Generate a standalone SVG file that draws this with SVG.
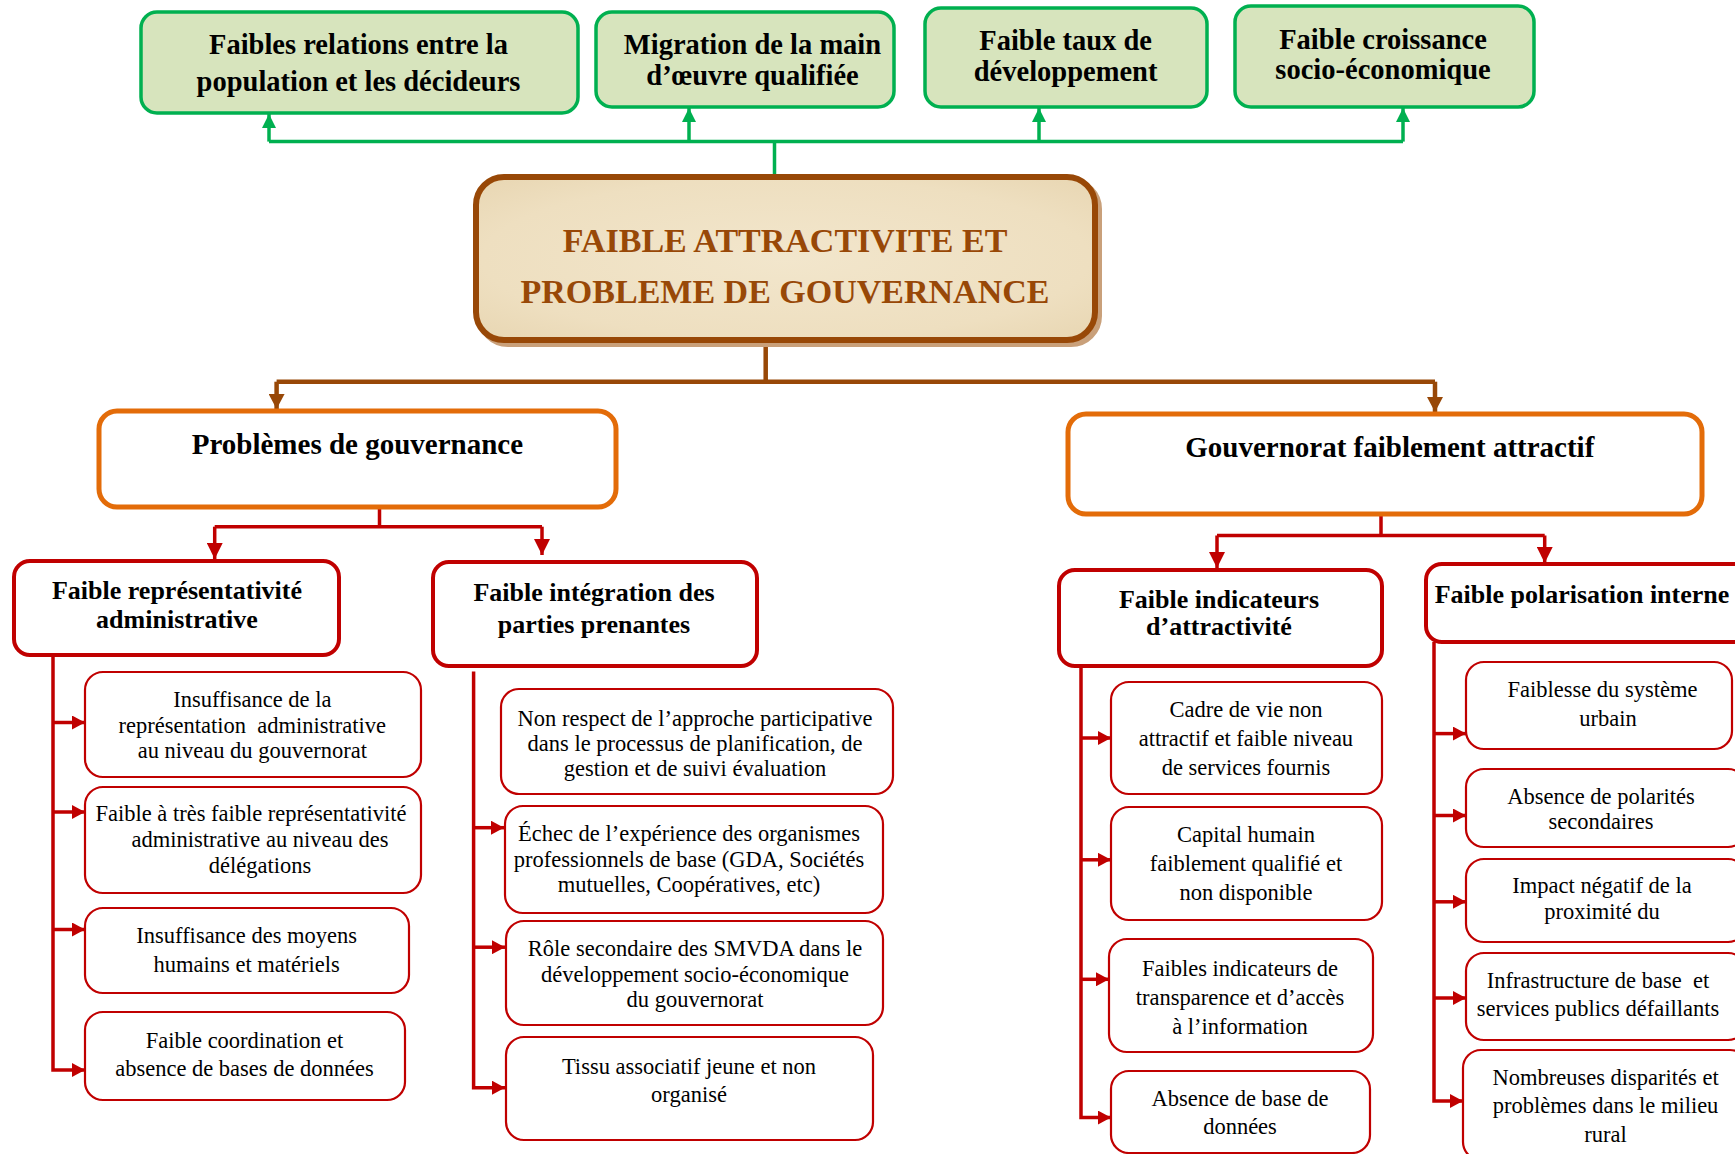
<svg xmlns="http://www.w3.org/2000/svg" width="1735" height="1154" viewBox="0 0 1735 1154">
<style>
text{font-family:"Liberation Serif","DejaVu Serif",serif;text-anchor:middle;fill:#000;white-space:pre}
.g rect{fill:#D7E4BD;stroke:#00B050;stroke-width:3.5}
.g text{font-size:28.5px;font-weight:bold}
.o rect{fill:#fff;stroke:#E36C09;stroke-width:5}
.o text{font-size:29px;font-weight:bold}
.r2 rect{fill:#fff;stroke:#C00000;stroke-width:4}
.r2 text{font-size:26px;font-weight:bold}
.lf rect{fill:#fff;stroke:#C00000;stroke-width:2.2}
.lf text{font-size:22.5px}
.cg{fill:none;stroke:#00B050;stroke-width:3.5}
.cb{fill:none;stroke:#984807;stroke-width:4.5}
.cr{fill:none;stroke:#C00000;stroke-width:3.5}
</style>
<defs>
<marker id="ag" markerUnits="userSpaceOnUse" markerWidth="14" markerHeight="14" refX="14" refY="7" orient="auto"><path d="M0,0 L14,7 L0,14 z" fill="#00B050"/></marker>
<marker id="ab" markerUnits="userSpaceOnUse" markerWidth="15" markerHeight="16" refX="15" refY="8" orient="auto"><path d="M0,0 L15,8 L0,16 z" fill="#984807"/></marker>
<marker id="ar" markerUnits="userSpaceOnUse" markerWidth="16" markerHeight="16" refX="16" refY="8" orient="auto"><path d="M0,0 L16,8 L0,16 z" fill="#C00000"/></marker>
<marker id="as" markerUnits="userSpaceOnUse" markerWidth="13" markerHeight="14" refX="13" refY="7" orient="auto"><path d="M0,0 L13,7 L0,14 z" fill="#C00000"/></marker>
<radialGradient id="parch" cx="50%" cy="50%" r="70%"><stop offset="0" stop-color="#F2E6CC"/><stop offset="0.7" stop-color="#EEDFC0"/><stop offset="1" stop-color="#E8D6B2"/></radialGradient>
</defs>

<g id="connectors">
<path class="cg" d="M774.5,177 V141.6 M269,141.6 H1403"/>
<path class="cg" d="M269,141.6 V114" marker-end="url(#ag)"/>
<path class="cg" d="M689,141.6 V108" marker-end="url(#ag)"/>
<path class="cg" d="M1039,141.6 V108" marker-end="url(#ag)"/>
<path class="cg" d="M1403,141.6 V108" marker-end="url(#ag)"/>
<path class="cb" d="M765.7,343 V381.7 M276.6,381.7 H1435"/>
<path class="cb" d="M276.6,381.7 V409" marker-end="url(#ab)"/>
<path class="cb" d="M1435,381.7 V412" marker-end="url(#ab)"/>
<path class="cr" d="M379.5,507 V526.7 M214.7,526.7 H542"/>
<path class="cr" d="M214.7,526.7 V559" marker-end="url(#ar)"/>
<path class="cr" d="M542,526.7 V555" marker-end="url(#ar)"/>
<path class="cr" d="M1381,514.5 V535.5 M1217,535.5 H1544.7"/>
<path class="cr" d="M1217,535.5 V568" marker-end="url(#ar)"/>
<path class="cr" d="M1544.7,535.5 V563" marker-end="url(#ar)"/>
<path class="cr" d="M53,655 V1070 H85" marker-end="url(#as)"/>
<path class="cr" d="M53,722.5 H85" marker-end="url(#as)"/>
<path class="cr" d="M53,812 H85" marker-end="url(#as)"/>
<path class="cr" d="M53,929.5 H85" marker-end="url(#as)"/>
<path class="cr" d="M473.6,671.6 V1087.7 H505" marker-end="url(#as)"/>
<path class="cr" d="M473.6,827.7 H504" marker-end="url(#as)"/>
<path class="cr" d="M473.6,947.2 H505" marker-end="url(#as)"/>
<path class="cr" d="M1081,666 V1117.6 H1111" marker-end="url(#as)"/>
<path class="cr" d="M1081,738 H1111" marker-end="url(#as)"/>
<path class="cr" d="M1081,859.8 H1111" marker-end="url(#as)"/>
<path class="cr" d="M1081,979.3 H1109" marker-end="url(#as)"/>
<path class="cr" d="M1434,642 V1101 H1463" marker-end="url(#as)"/>
<path class="cr" d="M1434,733.6 H1466" marker-end="url(#as)"/>
<path class="cr" d="M1434,815.5 H1466" marker-end="url(#as)"/>
<path class="cr" d="M1434,901.8 H1466" marker-end="url(#as)"/>
<path class="cr" d="M1434,998 H1466" marker-end="url(#as)"/>
</g>

<g id="n-relations" class="g"><rect x="141" y="12" width="437" height="101" rx="16"/><text x="358.5" y="54">Faibles relations entre la</text><text x="358.5" y="91">population et les décideurs</text></g>
<g id="n-migration" class="g"><rect x="596" y="12" width="298" height="95" rx="16"/><text x="752.5" y="54">Migration de la main</text><text x="752.5" y="85">d’œuvre qualifiée</text></g>
<g id="n-taux" class="g"><rect x="925" y="8" width="282" height="99" rx="16"/><text x="1065.6" y="50">Faible taux de</text><text x="1065.6" y="81">développement</text></g>
<g id="n-croissance" class="g"><rect x="1235" y="6" width="299" height="101" rx="16"/><text x="1383" y="49">Faible croissance</text><text x="1383" y="79">socio-économique</text></g>

<g id="n-central">
<rect x="480" y="181" width="619" height="163" rx="28" fill="#D9B99A" stroke="#C9A07A" stroke-width="6"/>
<rect x="476" y="177" width="619" height="163" rx="28" fill="url(#parch)" stroke="#984807" stroke-width="6"/>
<text x="785" y="252" style="font-size:34px;font-weight:bold;fill:#984807">FAIBLE ATTRACTIVITE ET</text>
<text x="785" y="303" style="font-size:34px;font-weight:bold;fill:#984807">PROBLEME DE GOUVERNANCE</text>
</g>

<g id="n-gouvernance" class="o"><rect x="99" y="411" width="517" height="96" rx="18"/><text x="357.4" y="454">Problèmes de gouvernance</text></g>
<g id="n-attractif" class="o"><rect x="1068" y="414" width="634" height="100" rx="18"/><text x="1389.8" y="457">Gouvernorat faiblement attractif</text></g>

<g id="n-representativite" class="r2"><rect x="14" y="561" width="325" height="94" rx="16"/><text x="177" y="599">Faible représentativité</text><text x="177" y="628">administrative</text></g>
<g id="n-integration" class="r2"><rect x="433" y="562" width="324" height="104" rx="16"/><text x="594" y="601">Faible intégration des</text><text x="594" y="633">parties prenantes</text></g>
<g id="n-indicateurs" class="r2"><rect x="1059" y="570" width="323" height="96" rx="16"/><text x="1219" y="608">Faible indicateurs</text><text x="1219" y="635">d’attractivité</text></g>
<g id="n-polarisation" class="r2"><rect x="1426" y="564" width="330" height="78" rx="16"/><text x="1582" y="603">Faible polarisation interne</text></g>

<g id="n-l1" class="lf"><rect x="85" y="672" width="336" height="105" rx="18"/><text x="252.3" y="707">Insuffisance de la</text><text x="252.3" y="733">représentation  administrative</text><text x="252.3" y="758">au niveau du gouvernorat</text></g>
<g id="n-l2" class="lf"><rect x="85" y="787" width="336" height="106" rx="18"/><text x="251" y="821">Faible à très faible représentativité</text><text x="260" y="847">administrative au niveau des</text><text x="260" y="873">délégations</text></g>
<g id="n-l3" class="lf"><rect x="85" y="908" width="324" height="85" rx="18"/><text x="246.7" y="943">Insuffisance des moyens</text><text x="246.7" y="972">humains et matériels</text></g>
<g id="n-l4" class="lf"><rect x="85" y="1012" width="320" height="88" rx="18"/><text x="244.5" y="1048">Faible coordination et</text><text x="244.5" y="1076">absence de bases de données</text></g>

<g id="n-m1" class="lf"><rect x="501" y="689" width="392" height="105" rx="18"/><text x="695" y="726">Non respect de l’approche participative</text><text x="695" y="751">dans le processus de planification, de</text><text x="695" y="776">gestion et de suivi évaluation</text></g>
<g id="n-m2" class="lf"><rect x="505" y="806" width="378" height="107" rx="18"/><text x="689" y="841">Échec de l’expérience des organismes</text><text x="689" y="867">professionnels de base (GDA, Sociétés</text><text x="689" y="892">mutuelles, Coopératives, etc)</text></g>
<g id="n-m3" class="lf"><rect x="506" y="921" width="377" height="104" rx="18"/><text x="695" y="956">Rôle secondaire des SMVDA dans le</text><text x="695" y="982">développement socio-économique</text><text x="695" y="1007">du gouvernorat</text></g>
<g id="n-m4" class="lf"><rect x="506" y="1037" width="367" height="103" rx="18"/><text x="689" y="1074">Tissu associatif jeune et non</text><text x="689" y="1102">organisé</text></g>

<g id="n-i1" class="lf"><rect x="1111" y="682" width="271" height="112" rx="18"/><text x="1246" y="717">Cadre de vie non</text><text x="1246" y="746">attractif et faible niveau</text><text x="1246" y="775">de services fournis</text></g>
<g id="n-i2" class="lf"><rect x="1111" y="807" width="271" height="113" rx="18"/><text x="1246" y="842">Capital humain</text><text x="1246" y="871">faiblement qualifié et</text><text x="1246" y="900">non disponible</text></g>
<g id="n-i3" class="lf"><rect x="1109" y="939" width="264" height="113" rx="18"/><text x="1240" y="976">Faibles indicateurs de</text><text x="1240" y="1005">transparence et d’accès</text><text x="1240" y="1034">à l’information</text></g>
<g id="n-i4" class="lf"><rect x="1111" y="1071" width="259" height="82" rx="18"/><text x="1240" y="1106">Absence de base de</text><text x="1240" y="1134">données</text></g>

<g id="n-p1" class="lf"><rect x="1466" y="662" width="266" height="87" rx="18"/><text x="1602.5" y="697">Faiblesse du système</text><text x="1608" y="726">urbain</text></g>
<g id="n-p2" class="lf"><rect x="1466" y="769" width="280" height="78" rx="18"/><text x="1601" y="804">Absence de polarités</text><text x="1601" y="829">secondaires</text></g>
<g id="n-p3" class="lf"><rect x="1466" y="859" width="280" height="83" rx="18"/><text x="1602" y="893">Impact négatif de la</text><text x="1602" y="919">proximité du</text></g>
<g id="n-p4" class="lf"><rect x="1466" y="953" width="280" height="87" rx="18"/><text x="1598" y="988">Infrastructure de base  et</text><text x="1598" y="1016">services publics défaillants</text></g>
<g id="n-p5" class="lf"><rect x="1463" y="1050" width="285" height="110" rx="18"/><text x="1605.6" y="1085">Nombreuses disparités et</text><text x="1605.6" y="1113">problèmes dans le milieu</text><text x="1605.6" y="1142">rural</text></g>
</svg>
